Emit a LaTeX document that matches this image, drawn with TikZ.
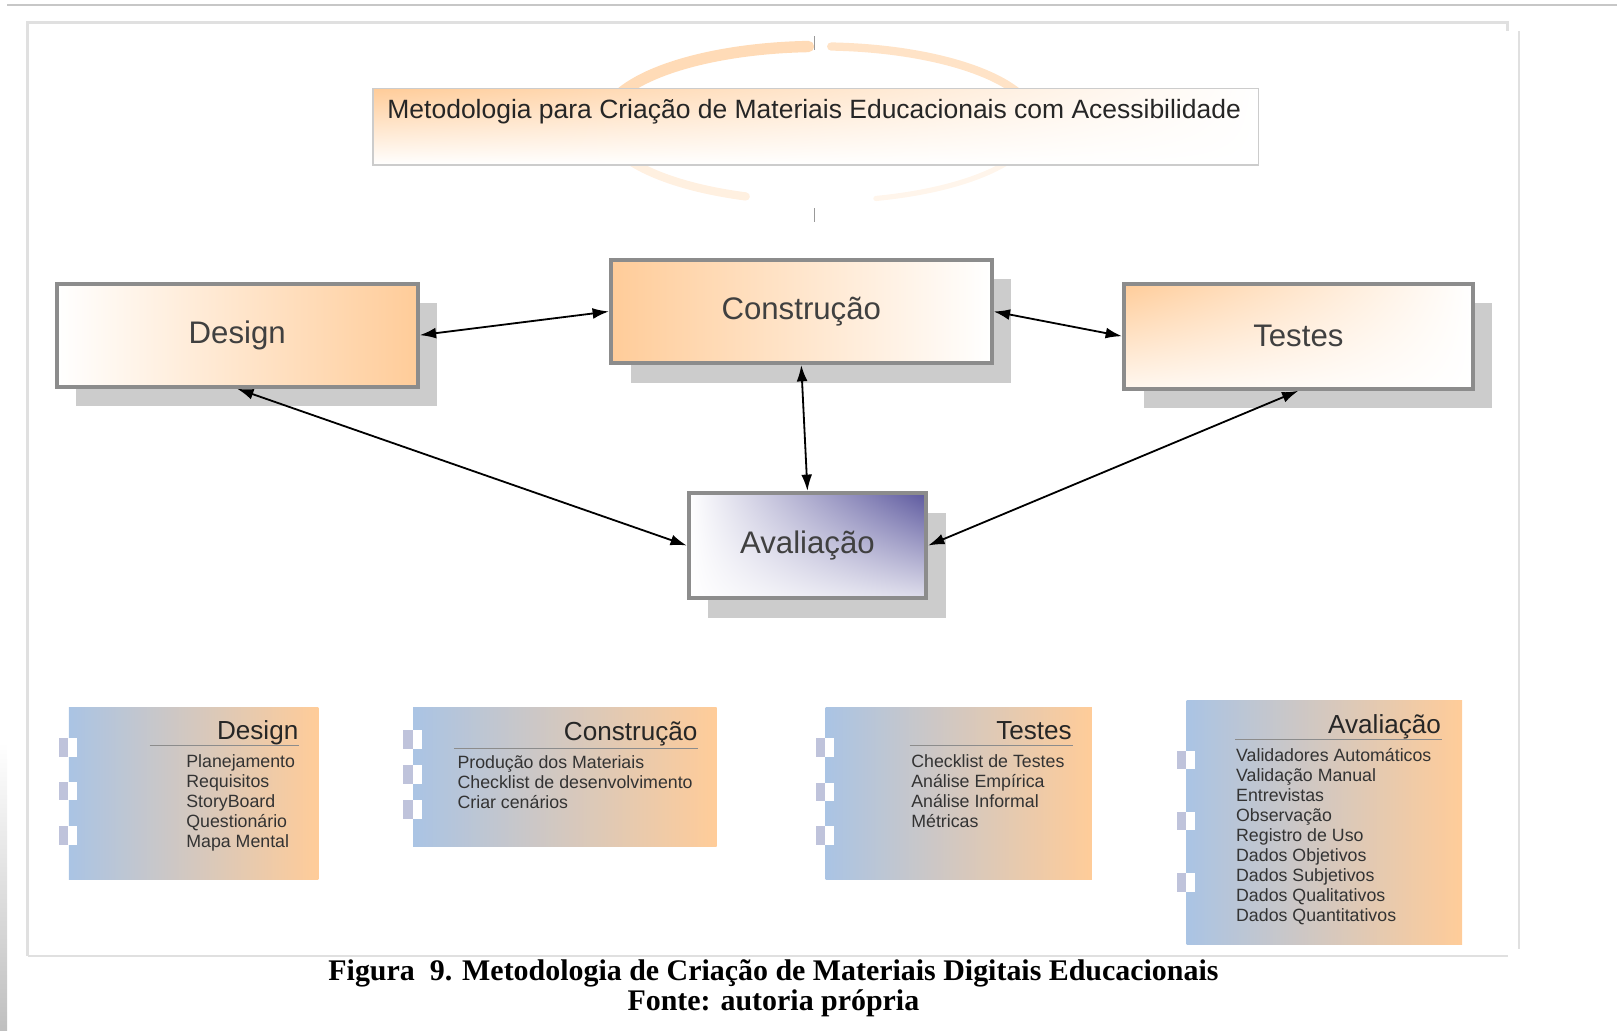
\documentclass[tikz,border=0pt]{standalone}
\usepackage{fontspec}
\setmainfont{Liberation Sans}
\newfontfamily\capfont{Liberation Serif}
\usetikzlibrary{arrows.meta,shadows,shadings}
\definecolor{peach}{RGB}{255,204,153}
\definecolor{paleblue}{RGB}{170,196,228}
\definecolor{indigoc}{RGB}{92,88,158}

\begin{document}
\begin{tikzpicture}[x=0.01cm, y=-0.01cm,
    mainbox/.style={draw=black!45, line width=1.1pt, inner sep=0pt, font=\fontsize{8.6}{10}\selectfont, text=black!75, drop shadow={shadow xshift=0.19cm, shadow yshift=-0.19cm, fill=black!20, opacity=1}},
    listbox/.style={anchor=north west, inner sep=0pt, left color=paleblue, right color=peach},
    listhead/.style={anchor=base east, inner sep=0pt, font=\fontsize{7.2}{8}\selectfont, text=black!85},
    listitems/.style={anchor=north west, align=left, inner sep=0pt, font=\fontsize{4.9}{5.5}\selectfont, text=black!80},
    frameline/.style={black!12, line width=0.8pt},
    ring/.style={peach, line cap=round},
    link/.style={{Latex[length=4.5pt,width=3pt]}-{Latex[length=4.5pt,width=3pt]}, line width=0.5pt}]
    \useasboundingbox (0,0) rectangle (1568,999);
    \draw[black!22, line width=0.6pt] (7,5) -- (1568,5);
    \shade[top color=white, bottom color=black!25] (0,720) rectangle (7,999);
    \draw[frameline] (27,927) -- (27,22) -- (1462,22) -- (1462,30);
    \draw[frameline] (27,927) -- (1462,927);
    \draw[frameline] (1473,30) -- (1473,920);

    \draw[ring, line width=0.11cm, opacity=0.7] (795,120) ++(195:210 and 75) arc [start angle=195, end angle=267, x radius=210, y radius=75];
    \draw[ring, line width=0.08cm, opacity=0.55] (795,120) ++(273:210 and 75) arc [start angle=273, end angle=338, x radius=210, y radius=75];
    \draw[ring, line width=0.08cm, opacity=0.3] (795,120) ++(165:210 and 75) arc [start angle=165, end angle=110, x radius=210, y radius=75];
    \draw[ring, line width=0.05cm, opacity=0.2] (795,120) ++(75:210 and 75) arc [start angle=75, end angle=30, x radius=210, y radius=75];
    \draw[black!40] (790,35) -- (790,48);
    \draw[black!40] (790,202) -- (790,215);
    \node[draw=black!20, minimum width=8.58cm, minimum height=0.74cm, inner sep=0pt, upper left=peach, upper right=white, lower left=white, lower right=white] (titlebox) at (791,123) {};
    \node[anchor=west, inner sep=0pt, font=\fontsize{7.3}{8}\selectfont, text=black!85] (titletext) at (375,108) {Metodologia para Criação de Materiais Educacionais com Acessibilidade};

    \node[mainbox, minimum width=3.5cm, minimum height=1cm, left color=white, right color=peach] (design) at (230,325) {Design};
    \node[mainbox, minimum width=3.69cm, minimum height=1cm, left color=peach, right color=white] (constr) at (777,302) {Construção};
    \node[mainbox, minimum width=3.38cm, minimum height=1.02cm, upper left=peach, upper right=white, lower left=peach!15, lower right=white] (testes) at (1259,326) {Testes};
    \node[mainbox, minimum width=2.3cm, minimum height=1.02cm, upper left=white, upper right=indigoc, lower left=white, lower right=indigoc!20] (aval) at (783,529) {Avaliação};
    \draw[link] (design.east) -- (constr.west);
    \draw[link] (constr.east) -- (testes.west);
    \draw[link] (constr.south) -- (aval.north);
    \draw[link] (design.south) -- (aval.west);
    \draw[link] (testes.south) -- (aval.east);

    \node[listbox, minimum width=2.42cm, minimum height=1.67cm] (ldesign) at (66,685) {};
    \node[listhead] (hdesign) at (290,717) {Design};
    \draw[black!45, line width=0.4pt] (145,723) -- (290,723);
    \node[listitems] (idesign) at (180,731) {Planejamento\\Requisitos\\StoryBoard\\Questionário\\Mapa Mental};
    \fill[paleblue!75!pink] (57,716) rectangle (66,734);
    \fill[white] (66,716) rectangle (75,734);
    \fill[paleblue!75!pink] (57,758) rectangle (66,776);
    \fill[white] (66,758) rectangle (75,776);
    \fill[paleblue!75!pink] (57,801) rectangle (66,819);
    \fill[white] (66,801) rectangle (75,819);

    \node[listbox, minimum width=2.94cm, minimum height=1.35cm] (lconstr) at (400,685) {};
    \node[listhead] (hconstr) at (677,718) {Construção};
    \draw[black!45, line width=0.4pt] (440,726) -- (677,726);
    \node[listitems] (iconstr) at (443,732) {Produção dos Materiais\\Checklist de desenvolvimento\\Criar cenários};
    \fill[paleblue!75!pink] (391,708) rectangle (400,726);
    \fill[white] (400,708) rectangle (409,726);
    \fill[paleblue!75!pink] (391,742) rectangle (400,760);
    \fill[white] (400,742) rectangle (409,760);
    \fill[paleblue!75!pink] (391,776) rectangle (400,794);
    \fill[white] (400,776) rectangle (409,794);

    \node[listbox, minimum width=2.58cm, minimum height=1.67cm] (ltestes) at (800,685) {};
    \node[listhead] (htestes) at (1040,717) {Testes};
    \draw[black!45, line width=0.4pt] (882,723) -- (1040,723);
    \node[listitems] (itestes) at (883,731) {Checklist de Testes\\Análise Empírica\\Análise Informal\\Métricas};
    \fill[paleblue!75!pink] (791,716) rectangle (800,734);
    \fill[white] (800,716) rectangle (809,734);
    \fill[paleblue!75!pink] (791,759) rectangle (800,777);
    \fill[white] (800,759) rectangle (809,777);
    \fill[paleblue!75!pink] (791,801) rectangle (800,819);
    \fill[white] (800,801) rectangle (809,819);

    \node[listbox, minimum width=2.67cm, minimum height=2.36cm] (laval) at (1150,679) {};
    \node[listhead] (haval) at (1398,711) {Avaliação};
    \draw[black!45, line width=0.4pt] (1198,717) -- (1398,717);
    \node[listitems] (iaval) at (1198,725) {Validadores Automáticos\\Validação Manual\\Entrevistas\\Observação\\Registro de Uso\\Dados Objetivos\\Dados Subjetivos\\Dados Qualitativos\\Dados Quantitativos};
    \fill[paleblue!75!pink] (1141,728) rectangle (1150,746);
    \fill[white] (1150,728) rectangle (1159,746);
    \fill[paleblue!75!pink] (1141,787) rectangle (1150,805);
    \fill[white] (1150,787) rectangle (1159,805);
    \fill[paleblue!75!pink] (1141,847) rectangle (1150,865);
    \fill[white] (1150,847) rectangle (1159,865);

    \node[align=center, inner sep=0pt, font=\capfont\bfseries\fontsize{8.25}{8.25}\selectfont] (caption) at (750,958) {Figura~~9. Metodologia de Criação de Materiais Digitais Educacionais\\Fonte: autoria própria};
\end{tikzpicture}
\end{document}
